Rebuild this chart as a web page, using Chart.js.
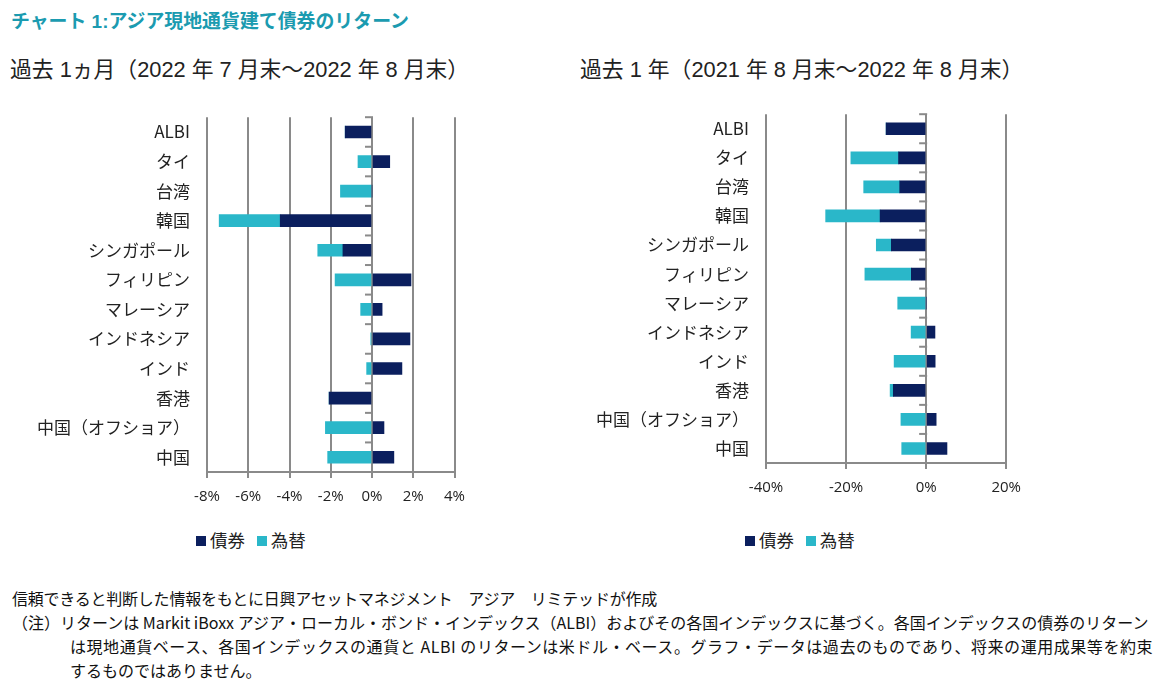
<!DOCTYPE html>
<html>
<head>
<meta charset="utf-8">
<script src="https://cdn.jsdelivr.net/npm/chart.js@4.4.1/dist/chart.umd.min.js"></script>
<style>
  body { margin: 0; width: 1161px; height: 698px; background: #fff; position: relative; overflow: hidden;
         font-family: "Liberation Sans", "Noto Sans CJK JP", sans-serif; color: #222; }
  .abs { position: absolute; white-space: nowrap; }
  #title { left: 11px; top: 6px; font-size: 18.9px; font-weight: bold; color: #1b9bb0; }
  .sub { top: 52px; font-size: 21.8px; color: #222; }
  .legend { top: 527px; font-size: 17.5px; font-family: "Noto Sans CJK JP", sans-serif; }
  .legend span.box { display: inline-block; width: 10px; height: 10px; margin-right: 4px; vertical-align: 1px; }
  .note { font-size: 16px; font-family: "Noto Sans CJK JP", sans-serif; color: #111; letter-spacing: 0px; }
</style>
</head>
<body>
<div id="title" class="abs">チャート 1:アジア現地通貨建て債券のリターン</div>
<div class="abs sub" style="left:10px;">過去 1ヵ月（2022 年 7 月末～2022 年 8 月末）</div>
<div class="abs sub" style="left:580px;">過去 1 年（2021 年 8 月末～2022 年 8 月末）</div>

<div class="abs" style="left:0; top:98px; width:475px; height:404px;"><canvas id="chartMonth"></canvas></div>
<div class="abs" style="left:560px; top:95px; width:471px; height:398px;"><canvas id="chartYear"></canvas></div>

<div class="abs legend" style="left:196px;"><span class="box" style="background:#0b1f5e"></span>債券&nbsp;&nbsp;&nbsp;<span class="box" style="background:#2ab7c9"></span>為替</div>
<div class="abs legend" style="left:745px;"><span class="box" style="background:#0b1f5e"></span>債券&nbsp;&nbsp;&nbsp;<span class="box" style="background:#2ab7c9"></span>為替</div>

<div class="abs note" style="left:12px; top:586px; letter-spacing:-0.23px;">信頼できると判断した情報をもとに日興アセットマネジメント　アジア　リミテッドが作成</div>
<div class="abs note" style="left:12px; top:610px;">（注）リターンは Markit iBoxx アジア・ローカル・ボンド・インデックス（ALBI）およびその各国インデックスに基づく。各国インデックスの債券のリターン</div>
<div class="abs note" style="left:70px; top:634px; letter-spacing:0.55px;">は現地通貨ベース、各国インデックスの通貨と ALBI のリターンは米ドル・ベース。グラフ・データは過去のものであり、将来の運用成果等を約束</div>
<div class="abs note" style="left:70px; top:658px;">するものではありません。</div>

<script>
const categories = ['ALBI', 'タイ', '台湾', '韓国', 'シンガポール', 'フィリピン', 'マレーシア',
                    'インドネシア', 'インド', '香港', '中国（オフショア）', '中国'];

// past 1 month (%)
const monthBond = [-1.3, 0.86, 0.0, -4.45, -1.41, 1.89, 0.49, 1.84, 1.45, -2.08, 0.58, 1.06];
const monthFx   = [0.0, -0.68, -1.53, -2.96, -1.22, -1.79, -0.55, -0.06, -0.26, 0.0, -2.26, -2.15];
const monthTicks = { min: -8, max: 4, step: 2 };

// past 1 year (%)
const yearBond = [-10.0, -6.9, -6.6, -11.5, -8.7, -3.7, 0.0, 2.2, 2.25, -8.2, 2.5, 5.2];
const yearFx   = [0.0, -11.9, -9.0, -13.6, -3.75, -11.6, -7.1, -3.75, -8.0, -0.8, -6.3, -6.1];
const yearTicks = { min: -40, max: 20, step: 20 };

const NAVY = '#0b1f5e';
const CYAN = '#2ab7c9';
const GRID = '#8a8a8a';

// small tick marks on the zero line between categories
const zeroTicks = {
    id: 'zeroTicks',
    afterDatasetsDraw(chart) {
        const x = chart.scales.x, y = chart.scales.y, ctx = chart.ctx;
        const x0 = x.getPixelForValue(0);
        const n = chart.data.labels.length;
        const step = (y.bottom - y.top) / n;
        ctx.save();
        ctx.strokeStyle = GRID;
        ctx.lineWidth = 2;
        for (let i = 0; i <= n; i++) {
            const py = y.top + i * step;
            ctx.beginPath();
            ctx.moveTo(x0 - 7, py);
            ctx.lineTo(x0 + 1, py);
            ctx.stroke();
        }
        ctx.restore();
    }
};

function makeChart(id, bond, fx, ticks, yWidth, pad) {
    new Chart(document.getElementById(id), {
        type: 'bar',
        data: {
            labels: categories,
            datasets: [
                { label: '債券', data: bond, backgroundColor: NAVY, barThickness: 12 },
                { label: '為替', data: fx, backgroundColor: CYAN, barThickness: 12 }
            ]
        },
        options: {
            indexAxis: 'y',
            responsive: true,
            maintainAspectRatio: false,
            animation: false,
            layout: { padding: pad },
            plugins: { legend: { display: false }, tooltip: { enabled: false } },
            scales: {
                x: {
                    stacked: true,
                    min: ticks.min,
                    max: ticks.max,
                    ticks: {
                        stepSize: ticks.step,
                        color: '#222',
                        padding: 10,
                        font: { family: 'Open Sans', size: 15 },
                        callback: v => v + '%'
                    },
                    grid: { color: GRID, lineWidth: 2, tickLength: 6 },
                    border: { color: GRID, width: 2 },
                    afterFit: s => { s.height = 30; }
                },
                y: {
                    stacked: true,
                    grid: { display: false },
                    border: { display: false },
                    ticks: {
                        color: '#222',
                        padding: 9,
                        font: { family: 'Noto Sans CJK JP', size: 17 }
                    },
                    afterFit: s => { s.width = yWidth; }
                }
            }
        },
        plugins: [zeroTicks]
    });
}

makeChart('chartMonth', monthBond, monthFx, monthTicks, 207, { top: 0, right: 16, left: 0, bottom: 0 });
makeChart('chartYear', yearBond, yearFx, yearTicks, 206, { top: 1, right: 14, left: 0, bottom: 0 });
</script>
</body>
</html>
